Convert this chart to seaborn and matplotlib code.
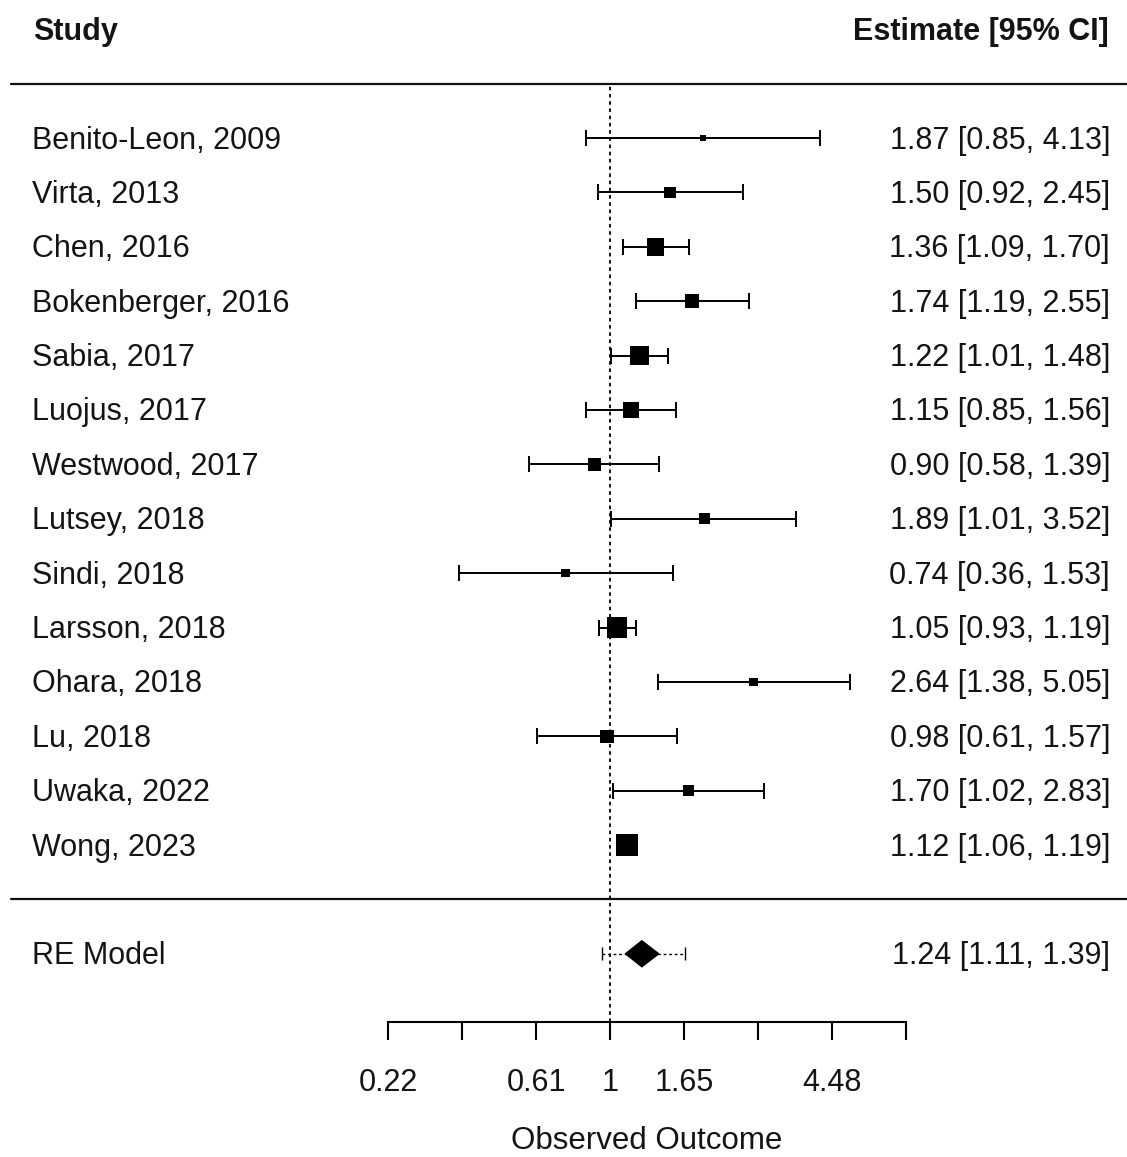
import numpy as np
import pandas as pd
import matplotlib
matplotlib.use("Agg")
import matplotlib.pyplot as plt
import seaborn as sns

# ---------------- data ----------------
studies = ["Benito-Leon, 2009", "Virta, 2013", "Chen, 2016", "Bokenberger, 2016",
           "Sabia, 2017", "Luojus, 2017", "Westwood, 2017", "Lutsey, 2018",
           "Sindi, 2018", "Larsson, 2018", "Ohara, 2018", "Lu, 2018",
           "Uwaka, 2022", "Wong, 2023"]
estimates = [1.87, 1.50, 1.36, 1.74, 1.22, 1.15, 0.90, 1.89, 0.74, 1.05, 2.64, 0.98, 1.70, 1.12]
ci_lower = [0.85, 0.92, 1.09, 1.19, 1.01, 0.85, 0.58, 1.01, 0.36, 0.93, 1.38, 0.61, 1.02, 1.06]
ci_upper = [4.13, 2.45, 1.70, 2.55, 1.48, 1.56, 1.39, 3.52, 1.53, 1.19, 5.05, 1.57, 2.83, 1.19]
weights = [2.5, 5.0, 10.0, 7.0, 11.5, 8.5, 6.5, 5.0, 3.5, 13.0, 3.5, 6.5, 5.0, 15.0]

re_label = "RE Model"
re_estimate = 1.24
re_ci = [1.11, 1.39]
re_pi = [0.95, 1.66]

tick_values = [-1.5, -1.0, -0.5, 0.0, 0.5, 1.0, 1.5, 2.0]
tick_labels = ["0.22", "", "0.61", "1", "1.65", "", "4.48", ""]
x_title = "Observed Outcome"
col_left = "Study"
col_right = "Estimate [95% CI]"

# ---------------- style ----------------
sns.set_style("white")
plt.rcParams["font.family"] = ["Liberation Sans", "DejaVu Sans"]
TXT = "#141414"

W, H = 1127, 1157
fig = plt.figure(figsize=(W / 100, H / 100), dpi=100)
ax_bottom_px = 1022
ax = fig.add_axes([0, 1 - ax_bottom_px / H, 1, ax_bottom_px / H])

# pixel -> data mapping
px0 = 610.0          # pixel of log(1)
ppu = 148.0          # pixels per log unit
row_px = 54.38
row0_px = 899.4
xlim = ((0 - px0) / ppu, (W - px0) / ppu)
ax.set_xlim(*xlim)
ax.set_ylim((row0_px - ax_bottom_px) / row_px, row0_px / row_px)

def xpx(p):
    return (p - px0) / ppu

k = len(studies)
df = pd.DataFrame({
    "study": studies,
    "yi": np.log(estimates),
    "lo": np.log(ci_lower),
    "hi": np.log(ci_upper),
    "w": weights,
    "row": np.arange(k, 0, -1),
})

# CI lines
ax.errorbar(df["yi"], df["row"], xerr=[df["yi"] - df["lo"], df["hi"] - df["yi"]],
            fmt="none", ecolor="black", elinewidth=1.4, capsize=5.8, capthick=1.4, zorder=2)

# boxes
side_min_px, side_max_px = 6, 22
smin = (side_min_px * 0.72) ** 2
smax = (side_max_px * 0.72) ** 2
sns.scatterplot(data=df, x="yi", y="row", size="w", sizes=(smin, smax),
                size_norm=(min(weights), max(weights)), marker="s", color="black",
                linewidth=0, legend=False, ax=ax, zorder=3)

# reference line
ax.vlines(0, ax.get_ylim()[0], k + 1, colors="black", linewidth=1.3,
          linestyles=(0, (2, 2)), zorder=1)

# separators
for r in (k + 1, 0):
    ax.axhline(r, xmin=11 / W, xmax=1, color="#111111", linewidth=1.6, zorder=1)

# RE model
r_re = -1
m = np.log(re_estimate)
lo_, hi_ = np.log(re_ci)
hh = 13 / row_px
ax.fill([lo_, m, hi_, m], [r_re, r_re + hh, r_re, r_re - hh], color="black",
        edgecolor="black", linewidth=1.0, zorder=3)
pl, ph = np.log(re_pi)
ax.plot([pl, ph], [r_re, r_re], color="black", linewidth=1.0, linestyle=(0, (2, 2)), zorder=2)
cap = 6.5 / row_px
ax.vlines([pl, ph], r_re - cap, r_re + cap, colors="black", linewidth=1.0, zorder=2)

# text (baseline placed ~10.5 px below the row centre)
fs = 22
bl = 10.5 / row_px
ax.text(xpx(33), k + 2 - bl, col_left, fontsize=fs, fontweight="bold", ha="left", va="baseline", color=TXT)
ax.text(xpx(1109), k + 2 - bl, col_right, fontsize=fs, fontweight="bold", ha="right", va="baseline", color=TXT)
for s, e, l, h, r in zip(studies, estimates, ci_lower, ci_upper, df["row"]):
    ax.text(xpx(32), r - bl, s, fontsize=fs, ha="left", va="baseline", color=TXT)
    ax.text(xpx(1110), r - bl, f"{e:.2f} [{l:.2f}, {h:.2f}]", fontsize=fs,
            ha="right", va="baseline", color=TXT)
ax.text(xpx(32), r_re - bl, re_label, fontsize=fs, ha="left", va="baseline", color=TXT)
ax.text(xpx(1110), r_re - bl, f"{re_estimate:.2f} [{re_ci[0]:.2f}, {re_ci[1]:.2f}]",
        fontsize=fs, ha="right", va="baseline", color=TXT)

# x axis
for sp in ("top", "left", "right"):
    ax.spines[sp].set_visible(False)
ax.spines["bottom"].set_bounds(tick_values[0], tick_values[-1])
ax.spines["bottom"].set_linewidth(1.5)
ax.spines["bottom"].set_color("black")
ax.set_yticks([])
ax.set_xticks(tick_values)
ax.set_xticklabels(tick_labels)
ax.tick_params(axis="x", direction="out", length=13, width=1.5, color="black",
               labelsize=fs, labelcolor=TXT, pad=20, bottom=True)
ax.set_xlabel(x_title, fontsize=22.5, color=TXT, labelpad=20)
mid = (tick_values[0] + tick_values[-1]) / 2
ax.xaxis.label.set_x((mid - xlim[0]) / (xlim[1] - xlim[0]))
ax.set_ylabel("")
ax.patch.set_alpha(0)

fig.savefig("out.png", dpi=100, facecolor="white")
